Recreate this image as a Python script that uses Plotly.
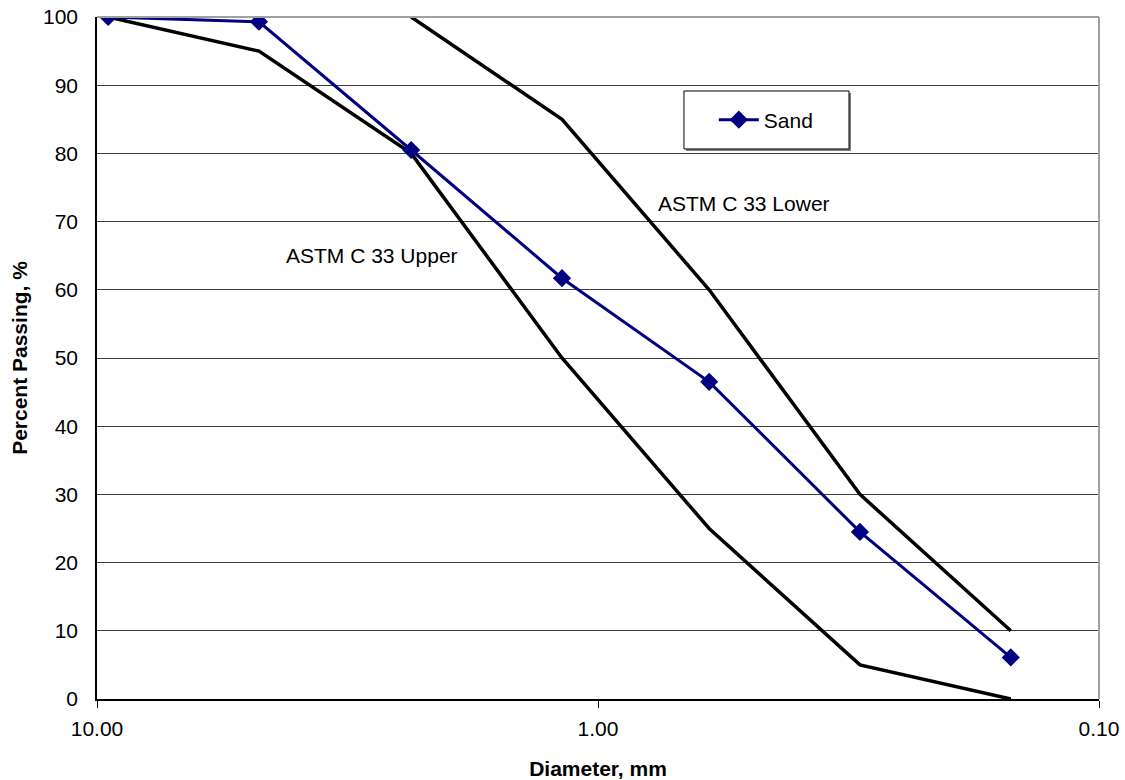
import plotly.graph_objects as go

# Sieve openings (mm) and gradation data
sieve_mm = [9.5, 4.75, 2.36, 1.18, 0.6, 0.3, 0.15]
sand_pct = [100, 99.3, 80.5, 61.7, 46.5, 24.5, 6.1]
astm_upper = [100, 95, 80, 50, 25, 5, 0]
lower_sieve_mm = [2.36, 1.18, 0.6, 0.3, 0.15]
astm_lower = [100, 85, 60, 30, 10]

x_tick_vals = [10, 1, 0.1]
x_tick_text = ["10.00", "1.00", "0.10"]
y_tick_vals = [0, 10, 20, 30, 40, 50, 60, 70, 80, 90, 100]

FONT = "Liberation Sans, Arial, sans-serif"

fig = go.Figure()

fig.add_trace(go.Scatter(
    x=sieve_mm, y=astm_upper, mode="lines",
    line=dict(color="#000000", width=3.5), showlegend=False,
    name="ASTM C 33 Upper",
))
fig.add_trace(go.Scatter(
    x=lower_sieve_mm, y=astm_lower, mode="lines",
    line=dict(color="#000000", width=3.5), showlegend=False,
    name="ASTM C 33 Lower",
))
fig.add_trace(go.Scatter(
    x=sieve_mm, y=sand_pct, mode="lines+markers",
    line=dict(color="#000080", width=3),
    marker=dict(symbol="diamond", size=14, color="#000080"),
    name="Sand",
))

# legend frame with a soft drop shadow
box = dict(x0=0.5858, x1=0.7505, y0=0.8065, y1=0.8915)
fig.add_shape(type="rect", xref="paper", yref="paper",
              x0=box["x0"] + 0.002, x1=box["x1"] + 0.002,
              y0=box["y0"] - 0.003, y1=box["y1"] - 0.003,
              line=dict(width=0), fillcolor="#808080", layer="above")
fig.add_shape(type="rect", xref="paper", yref="paper",
              x0=box["x0"], x1=box["x1"], y0=box["y0"], y1=box["y1"],
              line=dict(color="#000000", width=1), fillcolor="#ffffff",
              layer="above")

fig.add_annotation(x=0.451, y=65.1, xref="x", yref="y",
                   text="ASTM C 33 Upper", showarrow=False,
                   font=dict(family=FONT, size=21, color="#000000"))
fig.add_annotation(x=-0.291, y=72.7, xref="x", yref="y",
                   text="ASTM C 33 Lower", showarrow=False,
                   font=dict(family=FONT, size=21, color="#000000"))

fig.update_layout(
    width=1125, height=780,
    margin=dict(l=97, r=26, t=17, b=81, autoexpand=False),
    paper_bgcolor="#ffffff", plot_bgcolor="#ffffff",
    font=dict(family=FONT, size=21, color="#000000"),
    showlegend=True,
    legend=dict(
        x=0.668, y=0.849, xanchor="center", yanchor="middle",
        bgcolor="rgba(0,0,0,0)", borderwidth=0,
        font=dict(family=FONT, size=21, color="#000000"),
        itemwidth=40,
    ),
    xaxis=dict(
        type="log", range=[1, -1], automargin=False,
        tickvals=x_tick_vals, ticktext=x_tick_text,
        ticks="outside", ticklen=7, tickcolor="#000000", tickwidth=1,
        showgrid=False, zeroline=False,
        showline=True, linecolor="#000000", linewidth=1.5,
        mirror=False,
        title=dict(text="<b>Diameter, mm</b>", standoff=22,
                   font=dict(family=FONT, size=21)),
        tickfont=dict(family=FONT, size=21),
        ticklabelstandoff=3,
    ),
    yaxis=dict(
        range=[0, 100], tickvals=y_tick_vals, automargin=False,
        ticks="", showgrid=True, gridcolor="#404040", gridwidth=1,
        zeroline=False,
        showline=True, linecolor="#000000", linewidth=1.5,
        title=dict(text="<b>Percent Passing, %</b>", standoff=10,
                   font=dict(family=FONT, size=21)),
        tickfont=dict(family=FONT, size=21),
        ticklabelstandoff=13,
    ),
)

# light grey frame on top and right of the plot area
fig.add_shape(type="line", xref="paper", yref="paper",
              x0=0, x1=1, y0=1, y1=1,
              line=dict(color="#a0a0a0", width=2))
fig.add_shape(type="line", xref="paper", yref="paper",
              x0=1, x1=1, y0=0, y1=1,
              line=dict(color="#a0a0a0", width=2))

fig.write_html("out.html")
